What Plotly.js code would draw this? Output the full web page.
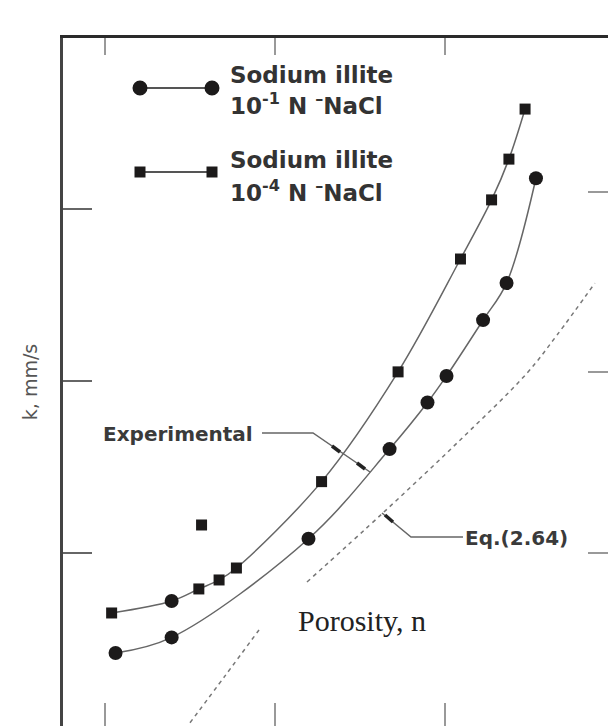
<!DOCTYPE html>
<html>
<head>
<meta charset="utf-8">
<script src="https://cdn.plot.ly/plotly-3.0.1.min.js"></script>
<style>
html,body{margin:0;padding:0;background:#fff;overflow:hidden;}
#chart{width:608px;height:726px;}
</style>
</head>
<body>
<div id="chart"></div>
<script>
// ---- data (porosity n, permeability k in mm/s) ----
const nCirc = [0.3062, 0.3392, 0.4197, 0.4674, 0.4897, 0.5009, 0.5224, 0.5362, 0.5535];
const kCirc = [2.62e-5, 3.23e-5, 1.21e-4, 4.02e-4, 7.50e-4, 1.07e-3, 2.26e-3, 3.71e-3, 1.51e-2];

const nSq = [0.3039, 0.3392, 0.3552, 0.3671, 0.3773, 0.4274, 0.4724, 0.5091, 0.5274, 0.5376, 0.5471];
const kSq = [4.48e-5, 5.26e-5, 6.18e-5, 6.97e-5, 8.18e-5, 2.60e-4, 1.13e-3, 5.12e-3, 1.13e-2, 1.95e-2, 3.81e-2];
const sqSymbols = ['square','circle','square','square','square','square','square','square','square','square','square'];

const nOut = [0.3568];
const kOut = [1.455e-4];

const nEq = [0.3500, 0.3706, 0.3906, null, 0.4188, 0.4635, 0.5077, 0.5482, 0.5659, 0.5882];
const kEq = [1.03e-5, 1.93e-5, 3.57e-5, null, 6.78e-5, 1.71e-4, 4.42e-4, 1.11e-3, 1.85e-3, 3.71e-3];

const xTicks = [0.3, 0.4, 0.5];
const yTicksLeft = [1e-4, 1e-3, 1e-2];
const yTicksRight = [1e-4, 1.13e-3, 1.26e-2];

const legendLine1 = 'Sodium illite';
const legendSub1 = '10<sup>-1</sup> N <sup>\u2013</sup>NaCl';
const legendSub2 = '10<sup>-4</sup> N <sup>\u2013</sup>NaCl';

// ---- helpers for pixel-placed decorations ----
const W = 608, H = 726, ML = 63, MT = 38;
const PW = W - ML, PH = H - MT;
function px(x){ return (x - ML) / PW; }
function py(y){ return (H - y) / PH; }
function path(pts){ return 'M ' + pts.map(p => px(p[0]).toFixed(5) + ',' + py(p[1]).toFixed(5)).join(' L '); }

const markColor = '#1c1a1a';
const curveColor = '#666';

const traces = [
  { x: nCirc, y: kCirc, mode: 'lines+markers', type: 'scatter',
    line: {shape: 'spline', color: curveColor, width: 1.5},
    marker: {symbol: 'circle', size: 14, color: markColor, opacity: 1, line: {width: 0}}, showlegend: false },
  { x: nSq, y: kSq, mode: 'lines+markers', type: 'scatter',
    line: {shape: 'spline', color: curveColor, width: 1.5},
    marker: {symbol: sqSymbols, size: sqSymbols.map(s => s === 'circle' ? 14 : 11), color: markColor,
             opacity: 1, line: {width: 0}}, showlegend: false },
  { x: nOut, y: kOut, mode: 'markers', type: 'scatter',
    marker: {symbol: 'square', size: 11, color: markColor, opacity: 1, line: {width: 0}}, showlegend: false },
  { x: nEq, y: kEq, mode: 'lines', type: 'scatter', connectgaps: false,
    line: {shape: 'spline', color: '#777', width: 1.5, dash: '4px,4px'}, showlegend: false }
];

const lgFont = {family: 'DejaVu Sans', size: 23, color: '#333', weight: 'bold'};
const annFont = {family: 'DejaVu Sans', size: 20, color: '#3a3a3a', weight: 'bold'};

function ann(text, x, y, font, anchor){
  return {text: text, xref: 'paper', yref: 'paper', x: px(x), y: py(y),
          xanchor: anchor || 'left', yanchor: 'middle', showarrow: false, font: font};
}

const annotations = [
  ann(legendLine1, 228, 75, lgFont),
  ann(legendSub1, 228, 104, lgFont),
  ann(legendLine1, 228, 160, lgFont),
  ann(legendSub2, 228, 191, lgFont),
  ann('Experimental', 101, 434, annFont),
  ann('Eq.(2.64)', 463, 538, annFont),
  ann('Porosity, n', 362, 620, {family: 'Liberation Serif', size: 30, color: '#222'}, 'center')
];

function dot(x, y, d, sym){
  return {type: sym === 'square' ? 'rect' : 'circle', xref: 'paper', yref: 'paper',
          xsizemode: 'pixel', ysizemode: 'pixel', xanchor: px(x), yanchor: py(y),
          x0: -d/2, x1: d/2, y0: -d/2, y1: d/2,
          fillcolor: markColor, line: {width: 0}};
}
function seg(pts, w, c){
  return {type: 'path', xref: 'paper', yref: 'paper', path: path(pts), line: {color: c, width: w}};
}

const shapes = [
  seg([[140, 88], [212, 88]], 2, '#555'),
  dot(140, 88, 15, 'circle'), dot(212, 88, 15, 'circle'),
  seg([[140, 172], [212, 172]], 2, '#555'),
  dot(140, 172, 11, 'square'), dot(212, 172, 11, 'square'),
  seg([[262, 433], [313, 433], [370, 472]], 1.5, '#666'),
  seg([[332, 446], [340, 452]], 3.5, '#222'),
  seg([[357, 463], [365, 469]], 3.5, '#222'),
  seg([[463, 537], [411, 537], [382, 513]], 1.5, '#666'),
  seg([[385, 515], [393, 522]], 3.5, '#222')
];

const layout = {
  width: W, height: H,
  margin: {l: ML, r: 0, t: MT, b: 0, pad: 0},
  paper_bgcolor: '#fff', plot_bgcolor: '#fff',
  xaxis: {range: [0.3 - 42/1700, 0.3 + 503/1700], tickvals: xTicks, ticks: 'inside', ticklen: 23,
          tickwidth: 2, tickcolor: '#999', showticklabels: false, showgrid: false, zeroline: false, showline: false},
  xaxis2: {overlaying: 'x', side: 'top', matches: 'x', tickvals: xTicks, ticks: 'inside', ticklen: 17,
           tickwidth: 2, tickcolor: '#999', showticklabels: false, showgrid: false, zeroline: false,
           showline: true, linecolor: '#2a2a2a', linewidth: 3},
  yaxis: {type: 'log', range: [-5.0058, -1.0058], tickvals: yTicksLeft, ticks: 'inside', ticklen: 29,
          tickwidth: 2, tickcolor: '#666', showticklabels: false, showgrid: false, zeroline: false,
          showline: true, linecolor: '#444', linewidth: 3,
          title: {text: 'k, mm/s', font: {family: 'DejaVu Sans', size: 19, color: '#555'}, standoff: 18}},
  yaxis2: {type: 'log', overlaying: 'y', side: 'right', range: [-5.0058, -1.0058], tickvals: yTicksRight,
           ticks: 'inside', ticklen: 20, tickwidth: 2, tickcolor: '#999', showticklabels: false,
           showgrid: false, zeroline: false, showline: false},
  annotations: annotations,
  shapes: shapes,
  showlegend: false
};

// invisible trace to activate overlay axes
traces.push({x: [nCirc[0]], y: [kCirc[0]], xaxis: 'x2', yaxis: 'y2', mode: 'markers',
             marker: {opacity: 0}, hoverinfo: 'skip', showlegend: false});

Plotly.newPlot('chart', traces, layout, {staticPlot: true, displayModeBar: false});
</script>
</body>
</html>
